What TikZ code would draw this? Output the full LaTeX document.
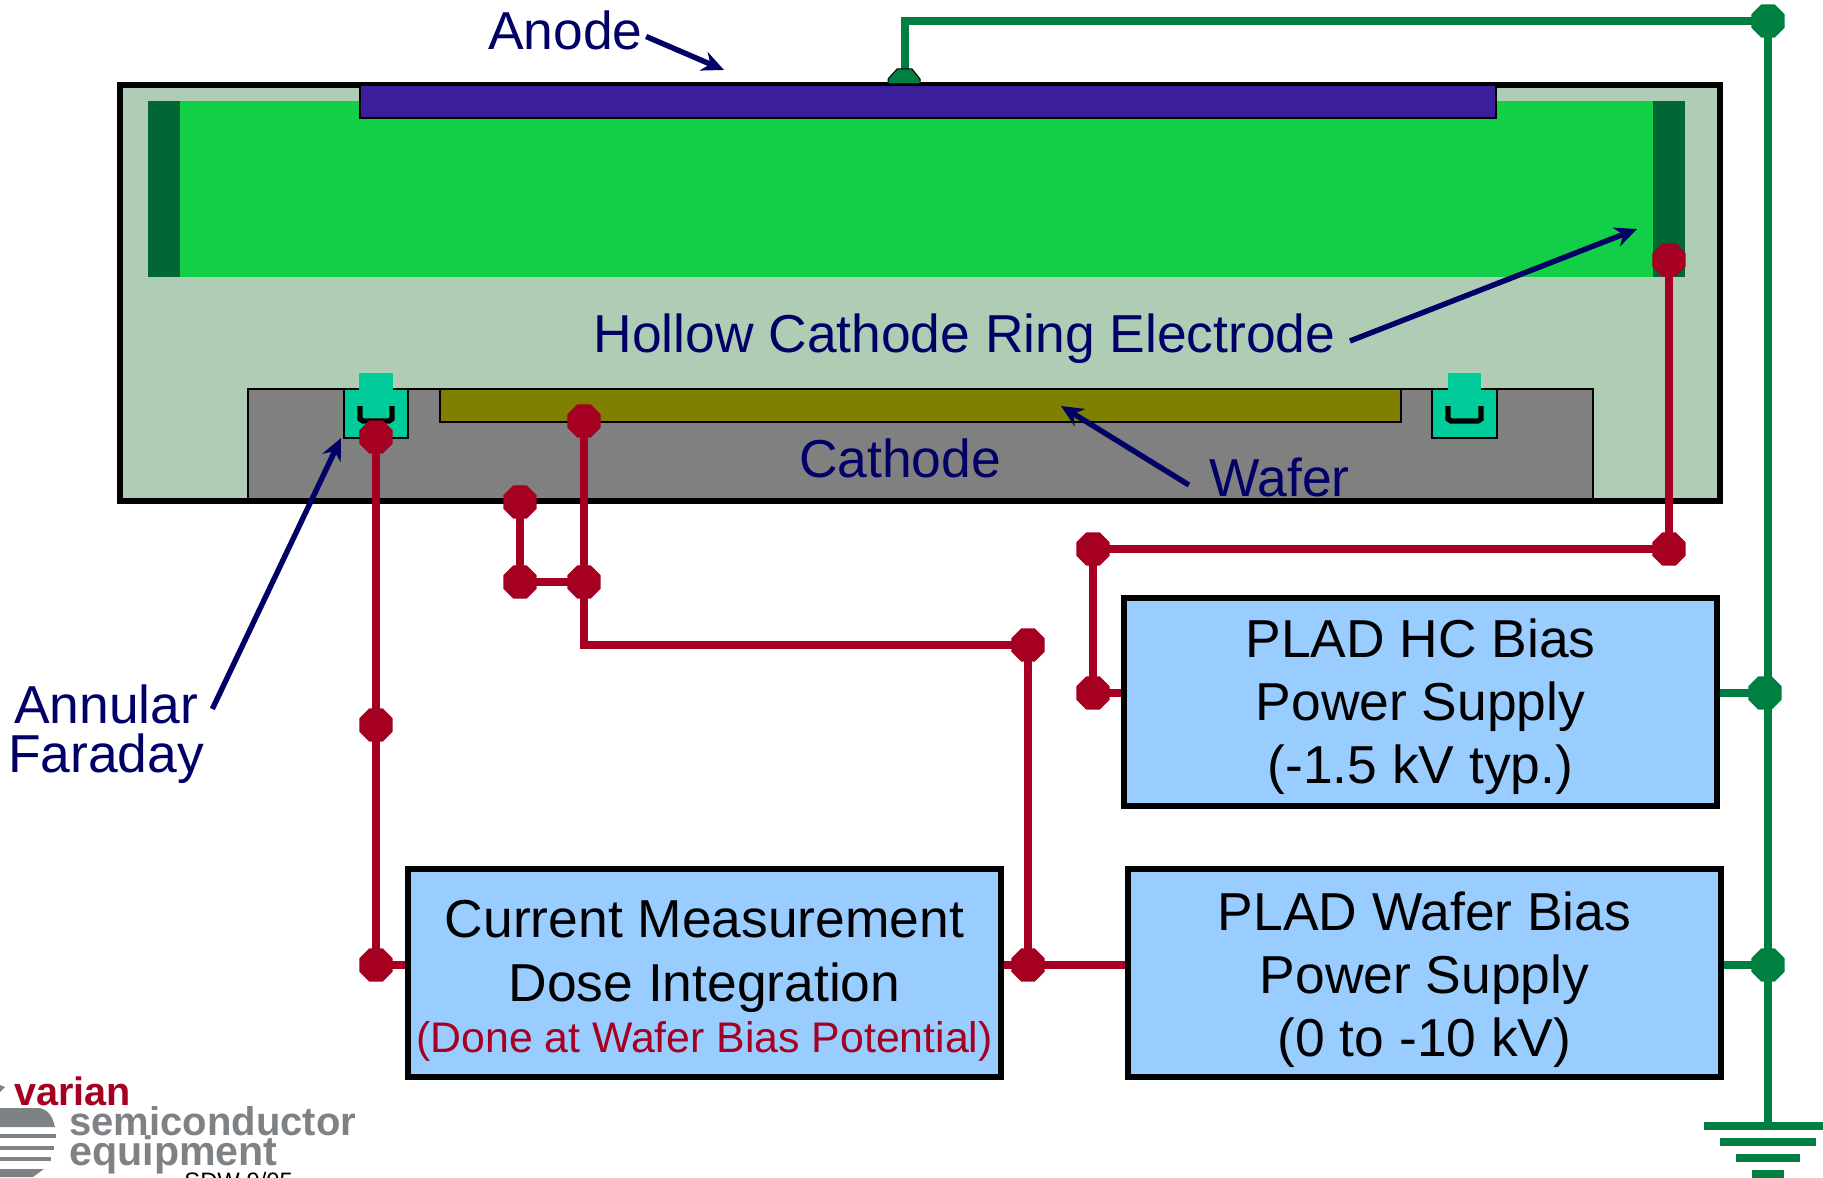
\documentclass[tikz,border=0pt]{standalone}
\usepackage{fontspec}
\setmainfont{Liberation Sans}
\usetikzlibrary{shapes.geometric,arrows.meta}
\definecolor{sage}{HTML}{AFCCB5}
\definecolor{plasma}{HTML}{13CF47}
\definecolor{ringgreen}{HTML}{006633}
\definecolor{anodeblue}{HTML}{3A1E9A}
\definecolor{teal}{HTML}{00CC99}
\definecolor{waferolive}{HTML}{808000}
\definecolor{wirered}{HTML}{A50021}
\definecolor{wiregreen}{HTML}{008040}
\definecolor{navy}{HTML}{000066}
\definecolor{boxblue}{HTML}{99CCFF}
\definecolor{logogray}{HTML}{7F8285}
\tikzset{
  x=0.5pt,y=-0.5pt,
  part/.style={draw=black,line width=1.4pt},
  redwire/.style={draw=wirered,line width=4.1pt},
  greenwire/.style={draw=wiregreen,line width=4.1pt},
  rednode/.style={regular polygon,regular polygon sides=8,fill=wirered,inner sep=0pt,minimum size=17.9pt},
  greennode/.style={regular polygon,regular polygon sides=8,fill=wiregreen,inner sep=0pt,minimum size=17.9pt},
  psubox/.style={draw=black,line width=3pt,fill=boxblue,inner sep=0pt,align=center,font=\fontsize{26.7}{31.5}\selectfont,text=black},
  lbl/.style={text=navy,font=\fontsize{26.7}{31.5}\selectfont,inner sep=0pt,align=center},
  pointer/.style={draw=navy,line width=2.7pt,-{Stealth[length=11pt,width=10pt]}},
  cup/.style={draw=black,line width=2.6pt},
  bar/.style={fill=wiregreen},
}
\begin{document}
\begin{tikzpicture}
\useasboundingbox (0,0) rectangle (1823,1177);
\clip (0,0) rectangle (1823,1177);
% chamber
\fill[sage] (120,85) rectangle (1720,501);
\fill[plasma] (148,101) rectangle (1685,277);
\fill[ringgreen] (148,101) rectangle (180,277);
\fill[ringgreen] (1653,101) rectangle (1685,277);
\path[part,fill=gray] (248,501) -- (248,389) -- (1593,389) -- (1593,501);
% faradays
\path[part,fill=teal] (344,389) rectangle (408,438);
\fill[teal] (359,373) rectangle (393,391);
\draw[cup] (360,406) -- (360,419) -- (363,421) -- (389,421) -- (392,419) -- (392,406);
\path[part,fill=teal] (1432,389) rectangle (1497,438);
\fill[teal] (1448,373) rectangle (1481,391);
\draw[cup] (1448,406) -- (1448,419) -- (1451,421) -- (1478,421) -- (1481,419) -- (1481,406);
% wafer
\path[part,fill=waferolive] (440,389) rectangle (1401,422);
\draw[black,line width=3pt] (120,85) rectangle (1720,501);
% anode
\path[part,fill=anodeblue] (360,85) rectangle (1496,118);
% boxes
\node[psubox,minimum width=296.5pt,minimum height=104pt] (cur) at (704.5,973) {\rule{0pt}{26.3pt}Current Measurement\\[0.5pt]Dose Integration\\[-6pt]{\fontsize{21.4}{26}\selectfont\color{wirered}(Done at Wafer Bias Potential)}};
\node[psubox,minimum width=296.5pt,minimum height=104pt] (wbias) at (1424.5,973) {\rule{0pt}{26.4pt}PLAD Wafer Bias\\Power Supply\\(0 to -10 kV)};
\node[psubox,minimum width=296.5pt,minimum height=104pt] (hc) at (1420.5,701.5) {\rule{0pt}{24.9pt}PLAD HC Bias\\Power Supply\\(-1.5 kV typ.)};
% red nodes
\coordinate (jc) at (584,645);
\draw[redwire] (376,437) -- (376,965);
\node[rednode] (far) at (376,437) {};
\node[rednode] (waf) at (584,421) {};
\node[rednode] (cat) at (520,502) {};
\node[rednode] (jl) at (520,582) {};
\node[rednode] (jr) at (584,582) {};
\node[rednode] (mid) at (376,725) {};
\node[rednode] (cin) at (376,965) {};
\node[rednode] (wtop) at (1028,645) {};
\node[rednode] (wjn) at (1028,965) {};
\node[rednode] (ring) at (1669,260) {};
\node[rednode] (rb) at (1669,549) {};
\node[rednode] (hl) at (1093,549) {};
\node[rednode] (hin) at (1093,693) {};
\draw[redwire] (cin.center) -- (cin.center -| cur.west);
\draw[redwire] (cat.center) -- (jl.center) -- (jr.center);
\draw[redwire] (waf.center) -- (jr.center) -- (jc) -- (wtop.center) -- (wjn.center);
\draw[redwire] (cur.east |- wjn.center) -- (wjn.center) -- (wjn.center -| wbias.west);
\draw[redwire] (ring.center) -- (rb.center) -- (hl.center) -- (hin.center) -- (hin.center -| hc.west);
% green
\node[greennode] (gtop) at (1768,21) {};
\node[greennode] (ghc) at (1765,693) {};
\node[greennode] (gw) at (1768,965) {};
\coordinate (tab) at (905,69);
\coordinate (gnd) at (1768,1126);
\coordinate (gcorner) at (905,21);
\draw[greenwire] (tab) -- (gcorner) -- (gtop.center) -- (gw.center) -- (gnd);
\draw[greenwire] (hc.east |- ghc.center) -- (ghc.center);
\draw[greenwire] (wbias.east |- gw.center) -- (gw.center);
\path[fill=wiregreen,draw=black,line width=0.5pt] (888,84) -- (888,79) -- (897,69) -- (912,69) -- (920,79) -- (920,84) -- cycle;
\fill[bar] (1704,1122) rectangle (1823,1130);
\fill[bar] (1720,1138) rectangle (1816,1146);
\fill[bar] (1736,1154) rectangle (1800,1162);
\fill[bar] (1752,1170) rectangle (1784,1178);
% labels
\node[lbl] (anode) at (565.5,30.5) {Anode};
\node[lbl] (hollow) at (964.5,339) {Hollow Cathode Ring Electrode};
\node[lbl] (cathode) at (900,458.5) {Cathode};
\node[lbl] (wafer) at (1279.5,477) {Wafer};
\node[lbl,align=left] (annular) at (106,734.6) {\hspace*{3pt}Annular\\[-7pt]Faraday};
\coordinate (anodetip) at (724,70);
\coordinate (ringtip) at (1637,229);
\coordinate (wafertip) at (1061,406);
\coordinate (fartip) at (341,438);
\draw[pointer] (anode.east) ++(3,6) -- (anodetip);
\draw[pointer] (hollow.east) ++(14,2) -- (ringtip);
\draw[pointer] (wafer.west) ++(-20,8) -- (wafertip);
\draw[pointer] (annular.east) ++(8,-25.6) -- (fartip);
% logo
\begin{scope}
\clip (0,1100) rectangle (60,1177);
\fill[logogray] (-10,1108) -- (40,1108) .. controls (47,1110) and (52,1114) .. (55,1127) -- (-10,1127) -- cycle;
\fill[logogray] (-10,1134) rectangle (56,1138);
\fill[logogray] (-10,1146) rectangle (54,1150);
\fill[logogray] (-10,1157) rectangle (51,1161);
\fill[logogray] (-10,1169) -- (44,1169) -- (33,1177) -- (-10,1177) -- cycle;
\end{scope}
\fill[logogray] (0,1085) -- (5,1087) -- (0,1092) -- cycle;
\node[inner sep=0pt,anchor=base west,text=wirered,font=\fontsize{19.8}{22}\selectfont\bfseries] (varian) at (14,1105) {varian};
\node[inner sep=0pt,anchor=base west,text=logogray,font=\fontsize{20}{22}\selectfont\bfseries] (semi) at (69,1135) {semiconductor};
\node[inner sep=0pt,anchor=base west,text=logogray,font=\fontsize{20.6}{22}\selectfont\bfseries] (equip) at (69,1165) {equipment};
\node[inner sep=0pt,anchor=base west,text=black,font=\fontsize{11.9}{13}\selectfont] (sdw) at (184,1189) {SDW 9/05};
\end{tikzpicture}
\end{document}
